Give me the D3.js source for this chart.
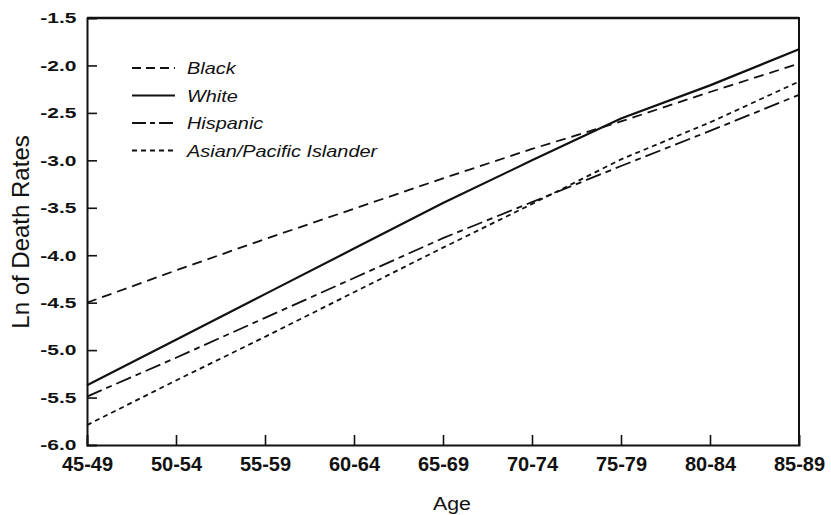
<!DOCTYPE html>
<html>
<head>
<meta charset="utf-8">
<script src="https://cdn.jsdelivr.net/npm/d3@7"></script>
<style>
  body { margin: 0; background: #fff; }
  text { font-family: "Liberation Sans", Arial, sans-serif; fill: #111; }
</style>
</head>
<body>
<script>
// chart values
const ageGroups = ["45-49", "50-54", "55-59", "60-64", "65-69", "70-74", "75-79", "80-84", "85-89"];
const black    = [-4.50, -4.16, -3.83, -3.51, -3.19, -2.88, -2.59, -2.28, -1.98];
const white    = [-5.37, -4.89, -4.41, -3.93, -3.45, -3.00, -2.56, -2.21, -1.83];
const hispanic = [-5.49, -5.08, -4.66, -4.24, -3.82, -3.44, -3.06, -2.69, -2.31];
const asian    = [-5.79, -5.32, -4.86, -4.39, -3.92, -3.46, -2.99, -2.60, -2.17];
const yTicks   = [-1.5, -2.0, -2.5, -3.0, -3.5, -4.0, -4.5, -5.0, -5.5, -6.0];

const series = [
  { name: "Black", values: black, dash: "10,6", legendDash: "9,5", width: 1.8 },
  { name: "White", values: white, dash: null, legendDash: null, width: 2.2 },
  { name: "Hispanic", values: hispanic, dash: "16,5,6,5", legendDash: "14,4,5,4", width: 1.8 },
  { name: "Asian/Pacific Islander", values: asian, dash: "5,4", legendDash: "5,4", width: 1.8 }
];

const w = 831;
const h = 515;
const padL = 87, padR = 799, padT = 18, padB = 445;

const svg = d3.select("body")
    .append("svg")
    .attr("width", w)
    .attr("height", h);

const xScale = d3.scalePoint()
    .domain(ageGroups)
    .range([padL, padR]);

const yScale = d3.scaleLinear()
    .domain([-6, -1.5])
    .range([padB, padT]);

// frame (top and right)
svg.append("path")
    .attr("d", `M${padL},${padT}H${padR}V${padB}`)
    .attr("fill", "none")
    .attr("stroke", "#111")
    .attr("stroke-width", 2);
svg.append("line")
    .attr("x1", padL).attr("x2", padR)
    .attr("y1", padT).attr("y2", padT)
    .attr("stroke", "#111").attr("stroke-width", 2.6);

const xAxis = d3.axisBottom(xScale).tickSize(-10).tickPadding(12);
const yAxis = d3.axisLeft(yScale).tickValues(yTicks).tickSize(-10).tickPadding(10)
    .tickFormat(d => d.toFixed(1));

const gx = svg.append("g")
    .attr("transform", "translate(0," + padB + ")")
    .call(xAxis);
gx.select(".domain").attr("stroke-width", 2).attr("stroke", "#111");
gx.selectAll(".tick line").attr("stroke-width", 1.6).attr("stroke", "#111")
    .filter((d, i) => i === 0 || i === ageGroups.length - 1).remove();
gx.selectAll(".tick text")
    .attr("font-size", 20)
    .attr("font-weight", "bold")
    .attr("font-family", "Liberation Sans, Arial, sans-serif")
    .attr("fill", "#111");

const gy = svg.append("g")
    .attr("transform", "translate(" + padL + ",0)")
    .call(yAxis);
gy.select(".domain").attr("stroke-width", 2).attr("stroke", "#111");
gy.selectAll(".tick line").attr("stroke-width", 1.6).attr("stroke", "#111")
    .filter((d, i) => i === 0 || i === yTicks.length - 1).remove();
gy.selectAll(".tick text")
    .attr("font-size", 15)
    .attr("font-weight", "bold")
    .attr("font-family", "Liberation Sans, Arial, sans-serif")
    .attr("fill", "#111")
    .attr("x", -7.5)
    .attr("transform", "scale(1.4,1)");

const line = d3.line()
    .x((d, i) => xScale(ageGroups[i]))
    .y(d => yScale(d));

svg.selectAll(".series")
    .data(series)
    .join("path")
    .attr("class", "series")
    .attr("d", d => line(d.values))
    .attr("fill", "none")
    .attr("stroke", "#111")
    .attr("stroke-width", d => d.width)
    .attr("stroke-dasharray", d => d.dash);

// legend
const legend = svg.append("g").attr("transform", "translate(132,68)");
const rows = legend.selectAll("g")
    .data(series)
    .join("g")
    .attr("transform", (d, i) => "translate(0," + (i * 27.5) + ")");
rows.append("line")
    .attr("x1", 0).attr("x2", 43)
    .attr("stroke", "#111")
    .attr("stroke-width", d => d.width)
    .attr("stroke-dasharray", d => d.legendDash);
rows.append("text")
    .attr("transform", "translate(55,6) scale(1.17,1)")
    .attr("font-size", 17)
    .attr("font-style", "italic")
    .text(d => d.name);

// axis titles
svg.append("text")
    .attr("transform", "translate(452,510) scale(1.12,1)")
    .attr("text-anchor", "middle")
    .attr("font-size", 19)
    .text("Age");

svg.append("text")
    .attr("transform", "translate(29,232) rotate(-90)")
    .attr("text-anchor", "middle")
    .attr("font-size", 24)
    .text("Ln of Death Rates");
</script>
</body>
</html>
